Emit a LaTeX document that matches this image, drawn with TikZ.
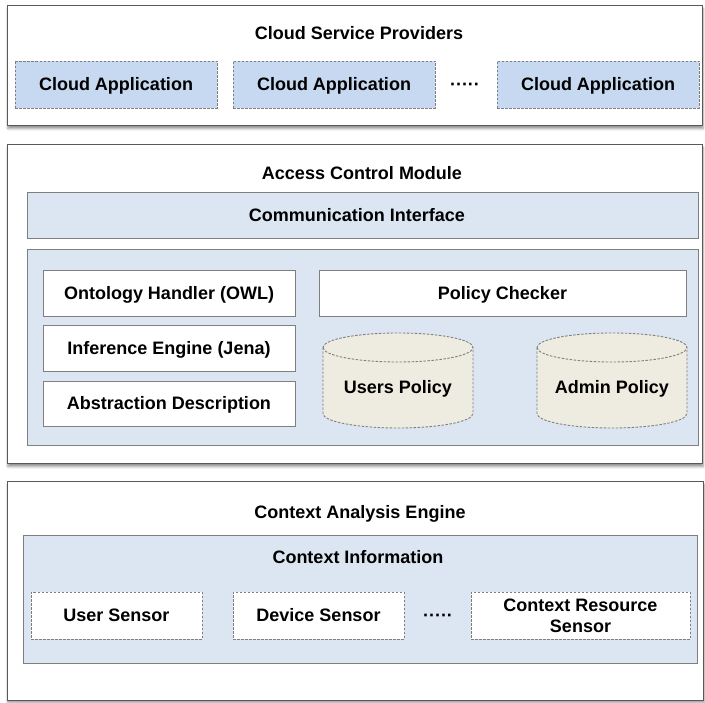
\documentclass[tikz,border=0pt]{standalone}
\usepackage{fontspec}
\setmainfont{Liberation Sans}
\usetikzlibrary{shadows.blur}
\definecolor{appblue}{HTML}{C6D9F1}
\definecolor{paleblue}{HTML}{DCE6F2}
\definecolor{beige}{HTML}{EEECE1}
\definecolor{edgegray}{HTML}{7F7F7F}
\definecolor{darkedge}{HTML}{595959}
\begin{document}
\begin{tikzpicture}[x=1pt,y=-1pt,
  every node/.style={font=\bfseries\fontsize{18}{21}\selectfont, text=black, inner sep=0pt, outer sep=0pt,
    text height=12.9pt, text depth=0pt},
  outerbox/.style={rectangle, draw=darkedge, line width=1pt, fill=white,
    blur shadow={shadow xshift=1pt, shadow yshift=-2.5pt, shadow blur radius=2.5pt, shadow opacity=45}},
  panel/.style={rectangle, draw=edgegray, line width=0.9pt, fill=paleblue},
  whitebox/.style={rectangle, draw=edgegray, line width=0.9pt, fill=white},
  appbox/.style={rectangle, draw=edgegray, line width=0.9pt, fill=appblue, dash pattern=on 2.5pt off 1.5pt},
  sensorbox/.style={rectangle, draw=edgegray, line width=0.9pt, fill=white, dash pattern=on 2.5pt off 1.5pt, align=center},
  cyl/.style={draw=edgegray, line width=0.9pt, fill=beige, dash pattern=on 2.5pt off 1.5pt},
  cylline/.style={draw=edgegray, line width=0.9pt, dash pattern=on 2.5pt off 1.5pt},
  title/.style={},
  dots/.style={}
]
\useasboundingbox (0,0) rectangle (705,703);

% ---------- Cloud Service Providers ----------
\node[outerbox, minimum width=695pt, minimum height=120pt] (csp) at (354.5,66) {};
\node[title] (csptitle) at (359,33) {Cloud Service Providers};
\node[appbox, minimum width=202pt, minimum height=47pt] (ca1) at (116,84.5) {Cloud Application};
\node[appbox, minimum width=202pt, minimum height=47pt] (ca2) at (334,84.5) {Cloud Application};
\node[dots] (cadots) at (465,84.5) {·····};
\node[appbox, minimum width=202pt, minimum height=47pt] (ca3) at (598,84.5) {Cloud Application};

% ---------- Access Control Module ----------
\node[outerbox, minimum width=695pt, minimum height=319pt] (acm) at (354.5,304.5) {};
\node[title] (acmtitle) at (362,173) {Access Control Module};
\node[panel, minimum width=671pt, minimum height=46pt] (comm) at (362.5,215) {};
\node (commtext) at (357,215) {Communication Interface};
\node[panel, minimum width=671pt, minimum height=196pt] (inner) at (362.5,347) {};
\node[whitebox, minimum width=252pt, minimum height=46pt] (onto) at (169,293) {Ontology Handler (OWL)};
\node[whitebox, minimum width=252pt, minimum height=46pt] (infer) at (169,348) {Inference Engine (Jena)};
\node[whitebox, minimum width=252pt, minimum height=45pt] (abstr) at (169,403.5) {Abstraction Description};
\node[whitebox, minimum width=367pt, minimum height=46pt] (pcheck) at (502.5,293) {Policy Checker};

% cylinders
\draw[cyl] (323,347.5) -- (323,413.5) arc[start angle=180, end angle=360, x radius=75pt, y radius=14.5pt]
  -- (473,347.5) arc[start angle=0, end angle=180, x radius=75pt, y radius=14.5pt] -- cycle;
\draw[cylline] (323,347.5) arc[start angle=180, end angle=360, x radius=75pt, y radius=14.5pt];
\node (users) at (398,387) {Users Policy};

\draw[cyl] (537,347.5) -- (537,413.5) arc[start angle=180, end angle=360, x radius=75pt, y radius=14.5pt]
  -- (687,347.5) arc[start angle=0, end angle=180, x radius=75pt, y radius=14.5pt] -- cycle;
\draw[cylline] (537,347.5) arc[start angle=180, end angle=360, x radius=75pt, y radius=14.5pt];
\node (admin) at (612,387) {Admin Policy};

% ---------- Context Analysis Engine ----------
\node[outerbox, minimum width=696pt, minimum height=218pt] (cae) at (355,591) {};
\node[title] (caetitle) at (360,512) {Context Analysis Engine};
\node[panel, minimum width=674pt, minimum height=128pt] (ctxinfo) at (360,599) {};
\node (ctxtitle) at (358,557) {Context Information};
\node[sensorbox, minimum width=171pt, minimum height=47pt] (usens) at (116.5,615.5) {User Sensor};
\node[sensorbox, minimum width=171pt, minimum height=47pt] (dsens) at (318.5,615.5) {Device Sensor};
\node[dots] (sdots) at (438,615.5) {·····};
\node[sensorbox, minimum width=219pt, minimum height=47pt, text height={}, text depth={}] (crsens) at (580.5,615.5) {Context Resource\\Sensor};
\end{tikzpicture}
\end{document}
